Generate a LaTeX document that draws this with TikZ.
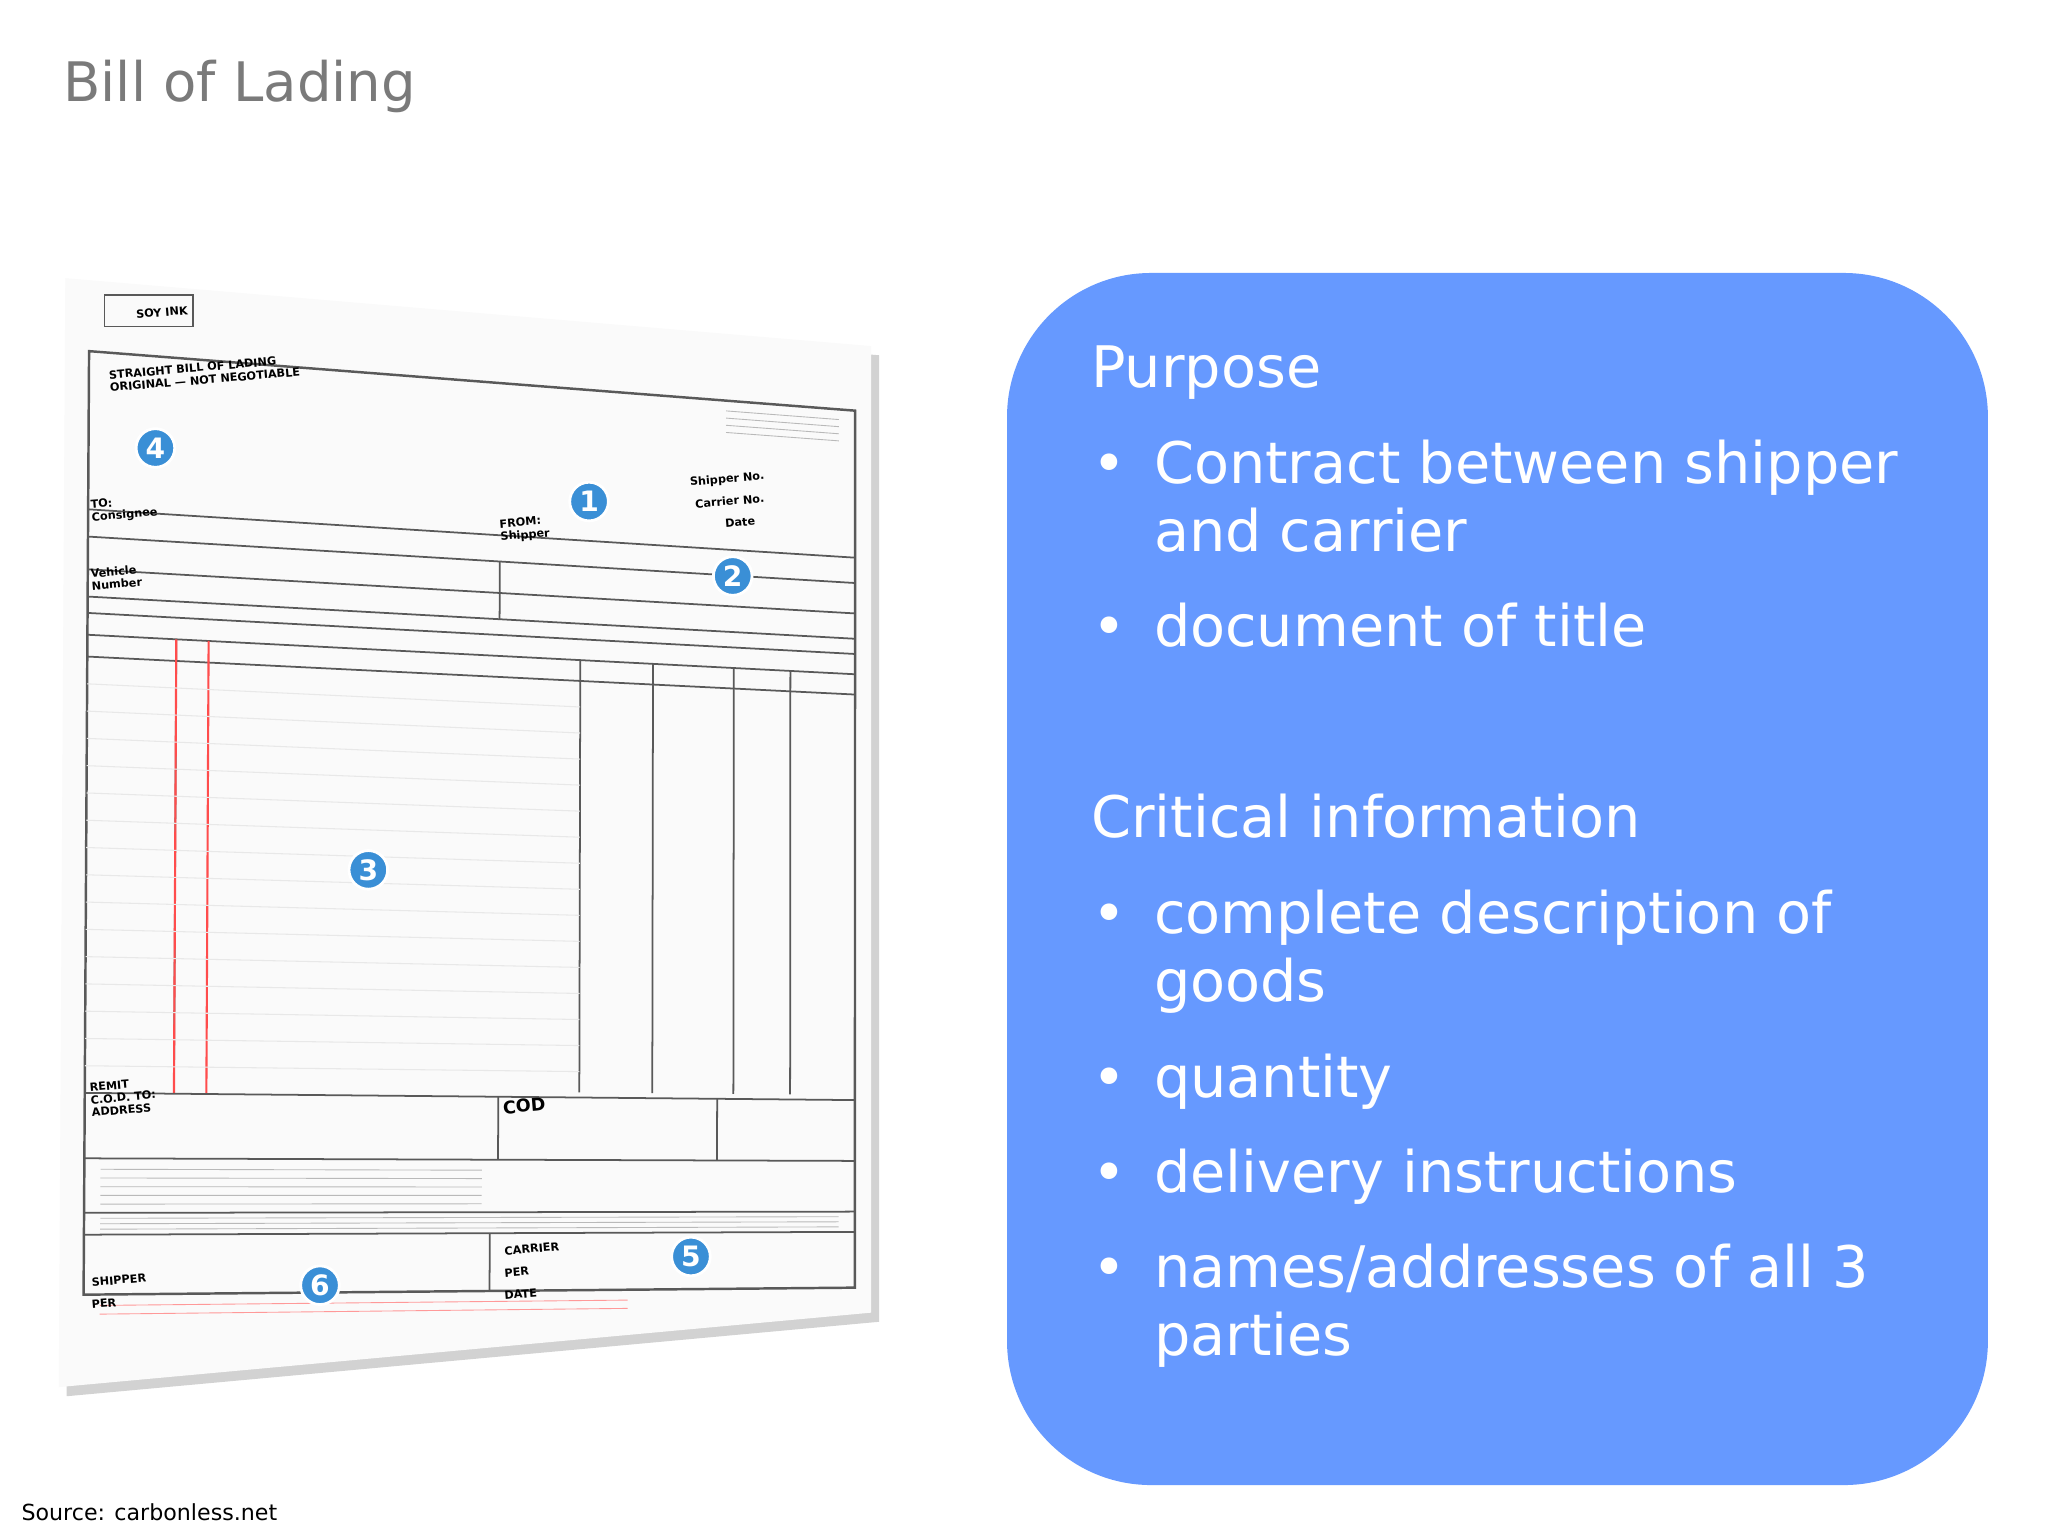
\documentclass[tikz,border=0pt]{standalone}
\usepackage{fontspec}
\setmainfont{DejaVu Sans}
\usetikzlibrary{calc}
\definecolor{boxblue}{HTML}{6699FF}
\definecolor{numblue}{HTML}{3A8FD6}
\newcommand{\Q}[2]{($($(A)!#1!(B)$)!#2!($(D)!#1!(C)$)$)}
\newcommand{\HL}[3]{\draw[formline] \Q{#2}{#1} -- \Q{#3}{#1};}
\newcommand{\VL}[3]{\draw[formline] \Q{#1}{#2} -- \Q{#1}{#3};}
\tikzset{
 formline/.style={draw=gray!70!black,line width=0.5pt},
 bodytxt/.style={anchor=base west,text=white,font=\fontsize{16.3pt}{19pt}\selectfont,inner sep=0},
 numc/.style={circle,fill=numblue,draw=white,line width=0.8pt,text=white,inner sep=0,minimum size=11pt,font=\bfseries\fontsize{8pt}{8pt}\selectfont},
 tiny/.style={font=\bfseries\fontsize{3.2pt}{3.6pt}\selectfont,inner sep=0,anchor=base west,rotate=4.8,align=left},
 fine/.style={draw=gray!55,line width=0.25pt},
}
\begin{document}
\begin{tikzpicture}[x=0.01306cm,y=-0.01306cm]
\useasboundingbox (0,0) rectangle (1568,1176);
\fill[white] (0,0) rectangle (1568,1176);
\node[anchor=base west,inner sep=0,text=black!52,font=\fontsize{15.5pt}{18pt}\selectfont] (title) at (48,78) {Bill of Lading};
\node[anchor=base west,inner sep=0,font=\fontsize{6.3pt}{7pt}\selectfont] (src) at (16,1164) {Source: carbonless.net};
% paper
\fill[gray!35] (56,220) -- (673,272) -- (673,1012) -- (51,1069) -- cycle;
\fill[gray!4] (50,213) -- (667,265) -- (667,1005) -- (45,1062) -- cycle;
% mapping quad (frame region)
\coordinate (A) at (50,213); \coordinate (B) at (667,265);
\coordinate (C) at (667,1040); \coordinate (D) at (45,1050);
% frame
\draw[formline,line width=0.7pt] \Q{0.03}{0.065} -- \Q{0.98}{0.065} -- \Q{0.98}{0.93} -- \Q{0.03}{0.93} -- cycle;
\HL{0.21}{0.03}{0.98}
\HL{0.235}{0.03}{0.98}
\HL{0.265}{0.03}{0.98}
\HL{0.29}{0.03}{0.98}
\HL{0.305}{0.03}{0.98}
\HL{0.325}{0.03}{0.98}
\HL{0.345}{0.03}{0.98}
\VL{0.54}{0.235}{0.29}
\VL{0.14}{0.325}{0.74}
\VL{0.64}{0.325}{0.74}
\VL{0.73}{0.325}{0.74}
\VL{0.83}{0.325}{0.74}
\VL{0.90}{0.325}{0.74}
\draw[red!70,line width=0.6pt] \Q{0.14}{0.325} -- \Q{0.14}{0.745};
\draw[red!70,line width=0.6pt] \Q{0.18}{0.325} -- \Q{0.18}{0.745};
\foreach \v in {0.37,0.395,...,0.73} {\draw[gray!18,line width=0.3pt] \Q{0.03}{\v} -- \Q{0.64}{\v};}
\HL{0.745}{0.03}{0.98}
\HL{0.805}{0.03}{0.98}
\VL{0.54}{0.745}{0.805}
\VL{0.81}{0.745}{0.805}
\HL{0.855}{0.03}{0.98}
\HL{0.875}{0.03}{0.98}
\VL{0.53}{0.875}{0.93}
\foreach \v in {0.815,0.823,...,0.85} {\draw[fine] \Q{0.05}{\v} -- \Q{0.52}{\v};}
\foreach \v in {0.86,0.865,0.87} {\draw[fine] \Q{0.05}{\v} -- \Q{0.96}{\v};}
\foreach \v in {0.94,0.948} {\draw[red!40,line width=0.25pt] \Q{0.05}{\v} -- \Q{0.7}{\v};}
\foreach \v in {0.075,0.082,0.089,0.096} {\draw[fine] \Q{0.82}{\v} -- \Q{0.96}{\v};}
% labels
\node[tiny] (h1) at (84,300) {STRAIGHT BILL OF LADING\\ORIGINAL --- NOT NEGOTIABLE};
\draw[formline] (80,226) rectangle (148,250);
\node[tiny] (logo) at (104,244) {SOY INK};
\node[tiny] (to) at (70,399) {TO:\\Consignee};
\node[tiny] (fr) at (383,414) {FROM:\\Shipper};
\node[tiny] (sn) at (528,372) {Shipper No.};
\node[tiny] (cn) at (532,389) {Carrier No.};
\node[tiny] (dt) at (555,404) {Date};
\node[tiny] (ve) at (70,452) {Vehicle\\Number};
\node[font=\bfseries\fontsize{5pt}{5pt}\selectfont,inner sep=0,anchor=base west,rotate=4.8] (cod) at (385,853) {COD};
\node[tiny] (rem) at (70,855) {REMIT\\C.O.D. TO:\\ADDRESS};
\node[tiny] (sh) at (70,985) {SHIPPER};
\node[tiny] (pe) at (70,1002) {PER};
\node[tiny] (ca) at (386,961) {CARRIER};
\node[tiny] (pe2) at (386,978) {PER};
\node[tiny] (da) at (386,995) {DATE};
% numbers
\node[numc] (n4) at (119,343) {4};
\node[numc] (n1) at (451,384) {1};
\node[numc] (n2) at (561,441) {2};
\node[numc] (n3) at (282,666) {3};
\node[numc] (n5) at (529,962) {5};
\node[numc] (n6) at (245,984) {6};
% blue box
\fill[boxblue,rounded corners=41pt] (771,209) rectangle (1522,1137);
\node[bodytxt] (p) at (835,297) {Purpose};
\node[bodytxt] (t1) at (883,370) {Contract between shipper};
\node[bodytxt] (t2) at (883,422) {and carrier};
\node[bodytxt] (t3) at (883,495) {document of title};
\node[bodytxt] (ci) at (835,641) {Critical information};
\node[bodytxt] (t4) at (883,715) {complete description of};
\node[bodytxt] (t5) at (883,767) {goods};
\node[bodytxt] (t6) at (883,840) {quantity};
\node[bodytxt] (t7) at (883,913) {delivery instructions};
\node[bodytxt] (t8) at (883,986) {names/addresses of all 3};
\node[bodytxt] (t9) at (883,1038) {parties};
\foreach \y in {370,495,715,840,913,986} {\node[bodytxt] at (836,\y) {•};}
\end{tikzpicture}
\end{document}
